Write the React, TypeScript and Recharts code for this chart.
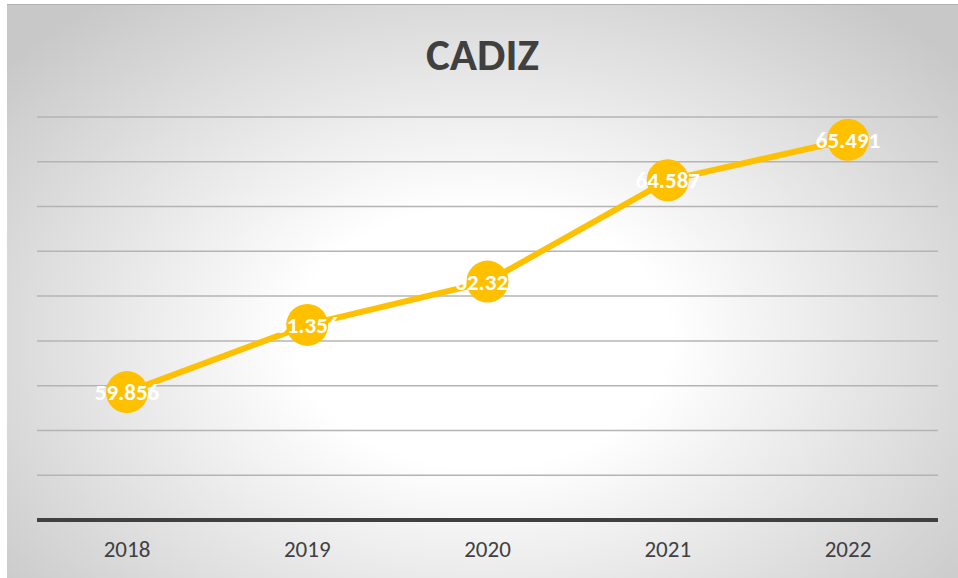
import React from "react"
import { LineChart, Line, XAxis, YAxis, CartesianGrid, LabelList } from "recharts"

const years = ["2018", "2019", "2020", "2021", "2022"]
const values = [59.856, 61.356, 62.324, 64.587, 65.491]
const yTicks = [57, 58, 59, 60, 61, 62, 63, 64, 65, 66]

const data = years.map((year, i) => ({ year, value: values[i] }))

const font = "Carlito, 'Open Sans', 'Noto Sans', sans-serif"

export default function App() {
  return (
    <div
      style={{
        position: "absolute",
        left: 7,
        top: 4,
        width: 951,
        height: 574,
        borderTop: "1px solid #b0b0b0",
        boxSizing: "border-box",
        background: "radial-gradient(ellipse 65% 75% at 50% 58%, #ffffff 30%, #c8c8c8 100%)",
        fontFamily: font,
      }}
    >
      <div
        style={{
          position: "absolute",
          top: 22,
          left: 0,
          width: "100%",
          textAlign: "center",
          fontSize: 45,
          fontWeight: 700,
          color: "#404040",
          fontFamily: font,
        }}
      >
        CADIZ
      </div>
      <LineChart
        width={951}
        height={573}
        data={data}
        margin={{ top: 112, right: 20, left: 30, bottom: 0 }}
        style={{ position: "absolute", top: 0, left: 0 }}
      >
        <CartesianGrid vertical={false} stroke="#b4b4b4" strokeWidth={1.5} />
        <YAxis hide domain={[57, 66]} ticks={yTicks} />
        <XAxis
          dataKey="year"
          height={58}
          padding={{ left: 90, right: 90 }}
          axisLine={{ stroke: "#404040", strokeWidth: 4 }}
          tickLine={false}
          tick={{ fill: "#404040", fontSize: 23, fontFamily: font }}
          dy={13}
        />
        <Line
          type="linear"
          dataKey="value"
          stroke="#FFC000"
          strokeWidth={6}
          dot={{ r: 21, fill: "#FFC000", stroke: "none" }}
          activeDot={false}
          isAnimationActive={false}
        >
          <LabelList
            dataKey="value"
            position="center"
            fill="#ffffff"
            fontSize={23}
            fontWeight={700}
            fontFamily={font}
            formatter={(v: number) => v.toFixed(3)}
          />
        </Line>
      </LineChart>
    </div>
  )
}
